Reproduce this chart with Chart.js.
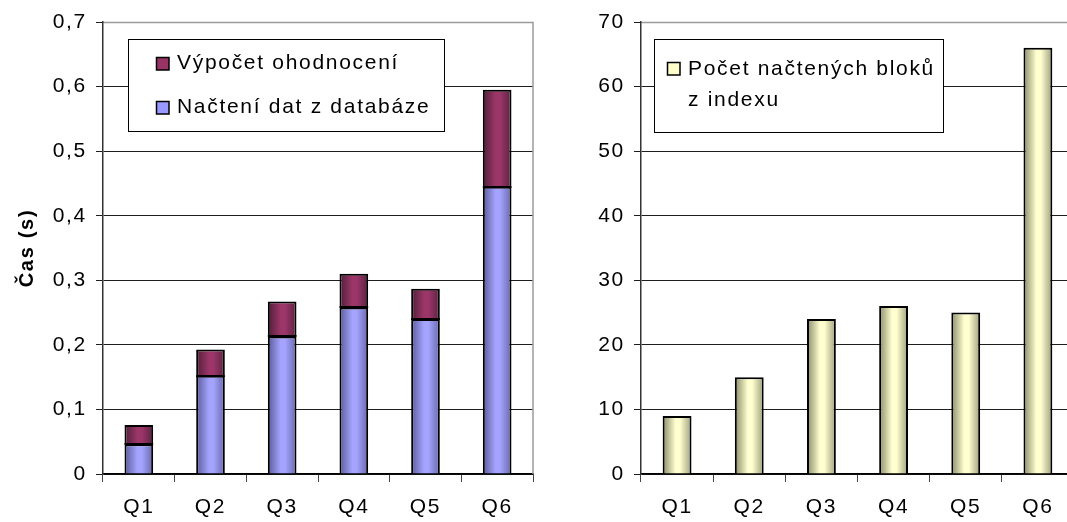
<!DOCTYPE html>
<html>
<head>
<meta charset="utf-8">
<script src="https://cdn.jsdelivr.net/npm/chart.js@4"></script>
<style>
  html, body { margin: 0; padding: 0; background: #fff; overflow: hidden; width: 1067px; height: 522px; }
  canvas { position: absolute; top: 0; }
  #timeChart { left: 0; }
  #blockChart { left: 540px; }
</style>
</head>
<body>
<canvas id="timeChart" width="540" height="522"></canvas>
<canvas id="blockChart" width="540" height="522"></canvas>
<script>
// Queries on the x axis
const categories = ['Q1', 'Q2', 'Q3', 'Q4', 'Q5', 'Q6'];

// Left panel: time split into loading and scoring (seconds)
const loadTimes  = [0.046, 0.152, 0.213, 0.258, 0.240, 0.445];
const scoreTimes = [0.030, 0.041, 0.054, 0.052, 0.047, 0.150];
const loadLabel  = 'Načtení dat z databáze';
const scoreLabel = 'Výpočet ohodnocení';
const timeAxisTitle = 'Čas (s)';
const timeTickLabels = ['0', '0,1', '0,2', '0,3', '0,4', '0,5', '0,6', '0,7'];

// Right panel: number of index blocks read
const blockCounts = [9, 15, 24, 26, 25, 66];
const blockLabelLines = ['Počet načtených bloků', 'z indexu'];
const blockTickLabels = ['0', '10', '20', '30', '40', '50', '60', '70'];

const FONT = '"Liberation Sans", Arial, sans-serif';
const FONT_SIZE = 21;
const LETTER_SPACING = '1.7px';
const BAR_FRACTION = 0.4;

const BLUE   = ['#5a5a98', '#a4a4ff', '#6868ac'];
const MAROON = ['#4e1f37', '#9c3669', '#5a2240'];
const CREAM  = ['#8a8a68', '#ffffd0', '#9e9e7c'];

// Open letter spacing for all canvas text
const spacing = {
  id: 'spacing',
  beforeUpdate(chart) { chart.ctx.letterSpacing = LETTER_SPACING; },
  beforeDraw(chart) { chart.ctx.letterSpacing = LETTER_SPACING; }
};

// Horizontal shading across each bar, dark edges and a light middle
function barShade(stops) {
  return (c) => {
    const chart = c.chart;
    const area = chart.chartArea;
    const xs = chart.scales.x;
    if (!area || !xs || c.type !== 'data') return stops[1];
    const cx = xs.getPixelForValue(c.dataIndex);
    const w = (area.right - area.left) / categories.length * BAR_FRACTION;
    const g = chart.ctx.createLinearGradient(cx - w / 2, 0, cx + w / 2, 0);
    g.addColorStop(0, stops[0]);
    g.addColorStop(0.45, stops[1]);
    g.addColorStop(0.6, stops[1]);
    g.addColorStop(1, stops[2]);
    return g;
  };
}

// Solid dark line where the two stacked segments meet
const stackSeam = {
  id: 'stackSeam',
  afterDatasetsDraw(chart) {
    const lower = chart.getDatasetMeta(0).data;
    const ctx = chart.ctx;
    ctx.save();
    ctx.fillStyle = '#000';
    lower.forEach(el => {
      const { x, y, width } = el.getProps(['x', 'y', 'width'], true);
      ctx.fillRect(x - width / 2, Math.round(y) - 1, width, 2);
    });
    ctx.restore();
  }
};

// Legend box drawn inside the plot area
function boxLegend(id, box, rows) {
  return {
    id,
    afterDatasetsDraw(chart) {
      const ctx = chart.ctx;
      ctx.save();
      ctx.fillStyle = '#fff';
      ctx.fillRect(box.x, box.y, box.w, box.h);
      ctx.strokeStyle = '#000';
      ctx.lineWidth = 1;
      ctx.strokeRect(box.x + 0.5, box.y + 0.5, box.w, box.h);
      ctx.font = FONT_SIZE + 'px ' + FONT;
      ctx.letterSpacing = LETTER_SPACING;
      ctx.textBaseline = 'middle';
      rows.forEach(r => {
        if (r.color) {
          ctx.fillStyle = r.color;
          ctx.fillRect(r.sx, r.sy, 13, 13);
          ctx.strokeStyle = '#000';
          ctx.lineWidth = 1.5;
          ctx.strokeRect(r.sx + 0.5, r.sy + 0.5, 12.5, 12.5);
        }
        ctx.fillStyle = '#000';
        ctx.fillText(r.text, r.tx, r.ty);
      });
      ctx.restore();
    }
  };
}

// Grey frame on top (and right) of the plot area
function plotFrame(drawRight) {
  return {
    id: 'plotFrame',
    beforeDatasetsDraw(chart) {
      const a = chart.chartArea;
      const ctx = chart.ctx;
      ctx.save();
      ctx.strokeStyle = '#9a9a9a';
      ctx.lineWidth = 1.5;
      ctx.beginPath();
      ctx.moveTo(a.left + 1, Math.round(a.top) + 0.5);
      ctx.lineTo(a.right, Math.round(a.top) + 0.5);
      if (drawRight) ctx.lineTo(a.right, a.bottom);
      ctx.stroke();
      ctx.restore();
    }
  };
}

function yAxis(max, step, labels, width, title) {
  return {
    min: 0, max: max,
    afterFit(s) { s.width = width; },
    ticks: {
      stepSize: step,
      padding: 9,
      color: '#000',
      font: { family: FONT, size: FONT_SIZE },
      callback: (v, i) => labels[i]
    },
    grid: { color: '#1e1e1e', lineWidth: 1, tickLength: 7, drawTicks: true },
    border: { display: true, color: '#333', width: 1.5 },
    title: title ? {
      display: true, text: title, color: '#000',
      font: { family: FONT, size: 20, weight: 'bold' },
      padding: { top: 15, bottom: 0 }
    } : { display: false }
  };
}

function xAxis(stacked) {
  return {
    stacked,
    afterFit(s) { s.height = 48; },
    ticks: { padding: 13, color: '#000', font: { family: FONT, size: FONT_SIZE } },
    grid: { display: true, drawOnChartArea: false, drawTicks: true, tickLength: 8, color: '#444', offset: true },
    border: { display: true, color: '#000', width: 1.5 }
  };
}

// Outlined bars
const barStyle = {
  borderColor: '#000', borderWidth: 2, borderSkipped: 'start', inflateAmount: 0,
  categoryPercentage: 1, barPercentage: BAR_FRACTION
};

new Chart(document.getElementById('timeChart'), {
  type: 'bar',
  data: {
    labels: categories,
    datasets: [
      Object.assign({ label: loadLabel, data: loadTimes, backgroundColor: barShade(BLUE) }, barStyle),
      Object.assign({ label: scoreLabel, data: scoreTimes, backgroundColor: barShade(MAROON) }, barStyle)
    ]
  },
  options: {
    responsive: false,
    animation: false,
    devicePixelRatio: 1,
    layout: { padding: { left: 0, top: 22, right: 7, bottom: 0 } },
    plugins: { legend: { display: false }, tooltip: { enabled: false } },
    scales: {
      x: xAxis(true),
      y: Object.assign(yAxis(0.7, 0.1, timeTickLabels, 103, timeAxisTitle), { stacked: true })
    }
  },
  plugins: [
    spacing,
    plotFrame(true),
    stackSeam,
    boxLegend('timeLegend', { x: 128, y: 39, w: 316, h: 92 }, [
      { color: '#993366', sx: 156, sy: 57, text: scoreLabel, tx: 177, ty: 63 },
      { color: '#9999ff', sx: 156, sy: 101, text: loadLabel, tx: 177, ty: 107 }
    ])
  ]
});

new Chart(document.getElementById('blockChart'), {
  type: 'bar',
  data: {
    labels: categories,
    datasets: [
      Object.assign({ label: blockLabelLines.join(' '), data: blockCounts, backgroundColor: barShade(CREAM) }, barStyle)
    ]
  },
  options: {
    responsive: false,
    animation: false,
    devicePixelRatio: 1,
    layout: { padding: { left: 0, top: 22, right: 6, bottom: 0 } },
    plugins: { legend: { display: false }, tooltip: { enabled: false } },
    scales: {
      x: xAxis(false),
      y: yAxis(70, 10, blockTickLabels, 101, null)
    }
  },
  plugins: [
    spacing,
    plotFrame(false),
    boxLegend('blockLegend', { x: 114, y: 39, w: 289, h: 93 }, [
      { color: '#ffffcc', sx: 127, sy: 62, text: blockLabelLines[0], tx: 148, ty: 69 },
      { text: blockLabelLines[1], tx: 148, ty: 100 }
    ])
  ]
});
</script>
</body>
</html>
